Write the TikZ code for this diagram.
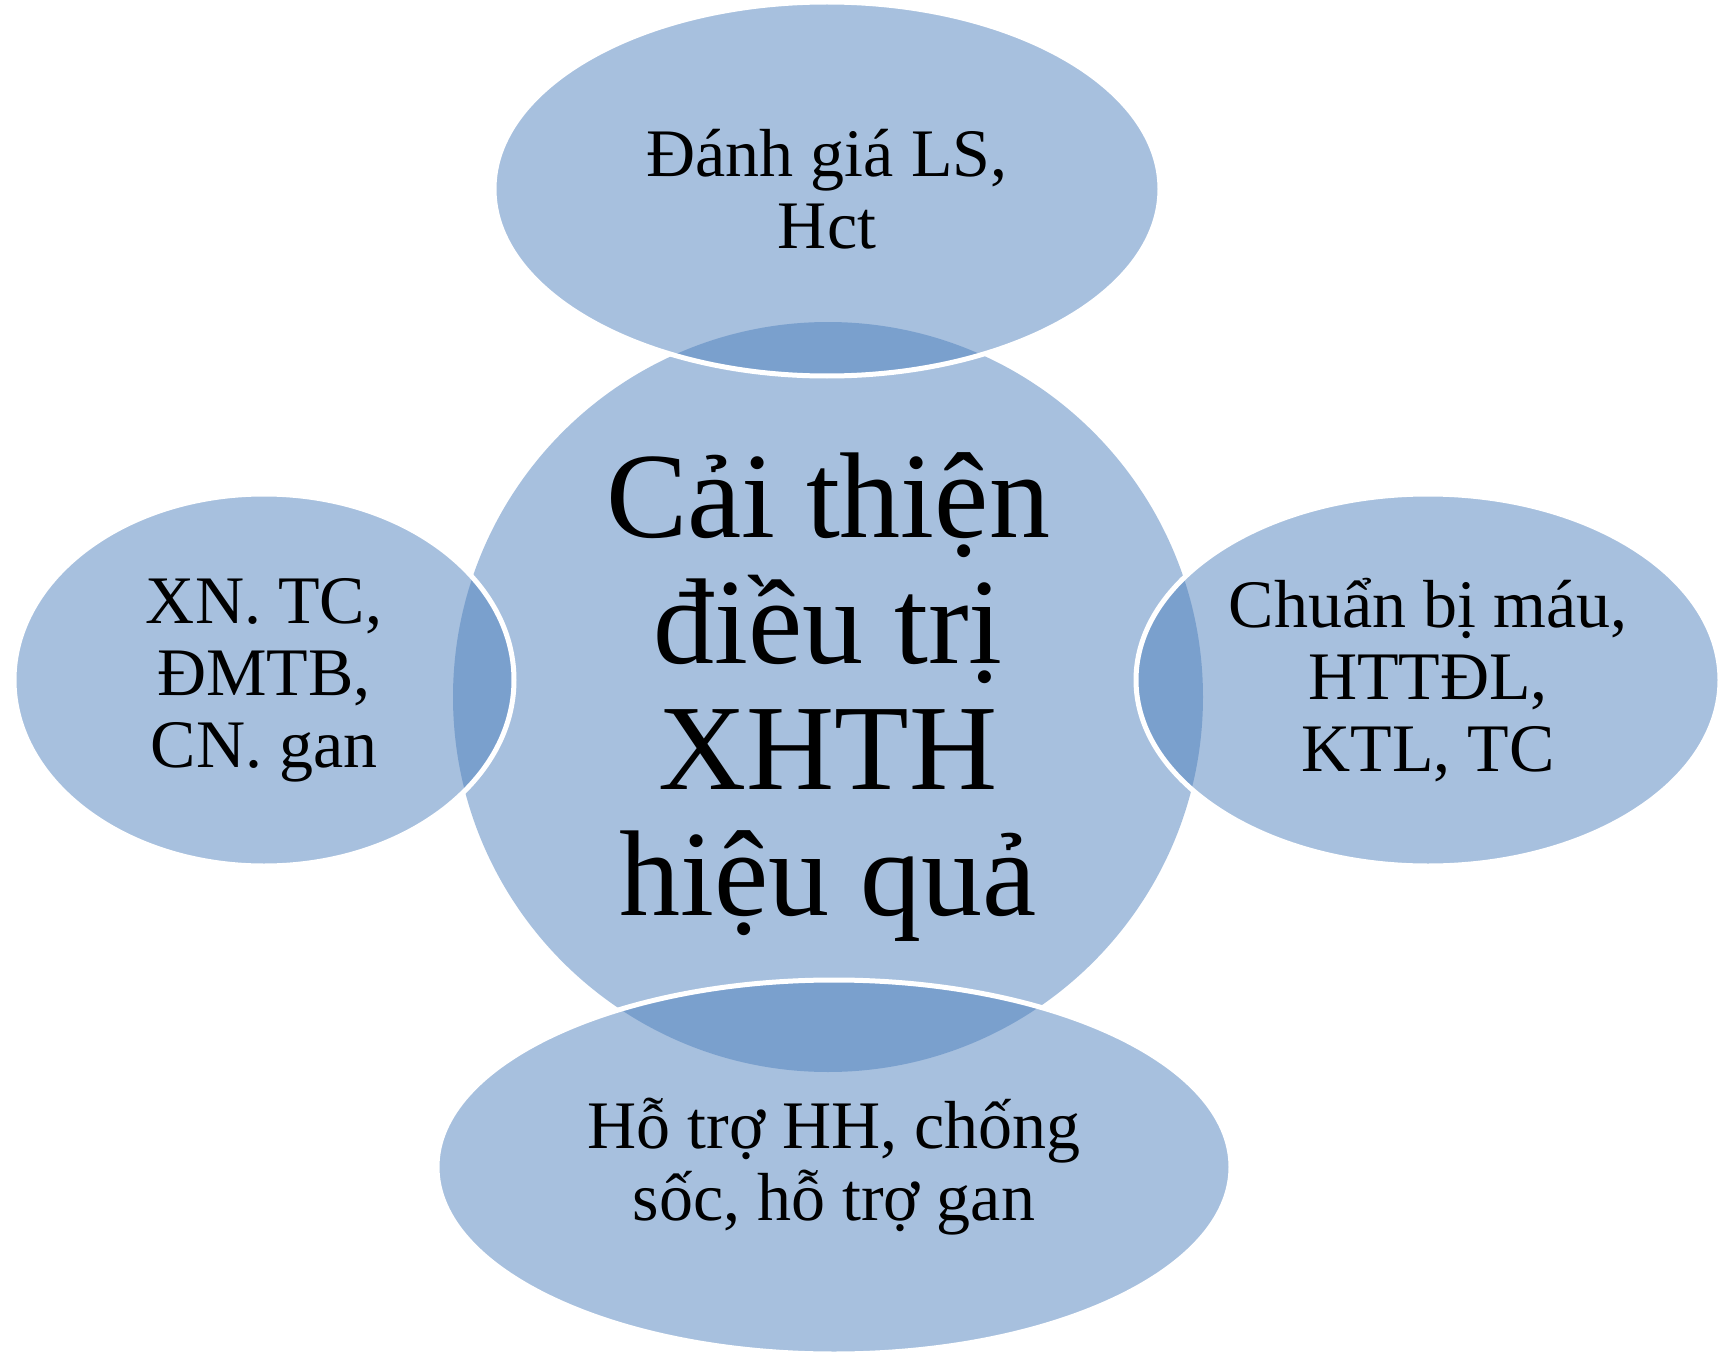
\documentclass[tikz,border=0pt]{standalone}
\usepackage{fontspec}
\setmainfont{Liberation Serif}
\usetikzlibrary{shapes.geometric}
\definecolor{accentblue}{HTML}{4F81BD}
\begin{document}
\begin{tikzpicture}[x=0.5pt, y=-0.5pt,
		hub/.style={circle, fill=accentblue, fill opacity=0.5, text opacity=1,
			inner sep=0pt, minimum size=375pt, align=center,
			font=\fontsize{61}{63}\selectfont},
		bubble/.style={ellipse, fill=accentblue, fill opacity=0.5, text opacity=1,
			draw=white, line width=2.5pt, inner sep=0pt, align=center,
			font=\fontsize{34}{36}\selectfont}]
		\useasboundingbox (0,0) rectangle (1721,1354);
		\node[hub] (hub) at (828,697) {Cải thiện\\điều trị\\XHTH\\hiệu quả};
		\node[bubble, minimum width=333pt, minimum height=187pt] (top) at (827,189) {Đánh giá LS,\\Hct};
		\node[bubble, minimum width=250pt, minimum height=186pt] (left) at (264,680) {XN. TC,\\ĐMTB,\\CN. gan};
		\node[bubble, minimum width=292pt, minimum height=186pt] (right) at (1428,680) {Chuẩn bị máu,\\HTTĐL,\\KTL, TC};
		\node[bubble, minimum width=397pt, minimum height=187pt] (bottom) at (834,1167) {Hỗ trợ HH, chống\\sốc, hỗ trợ gan};
	\end{tikzpicture}
\end{document}
